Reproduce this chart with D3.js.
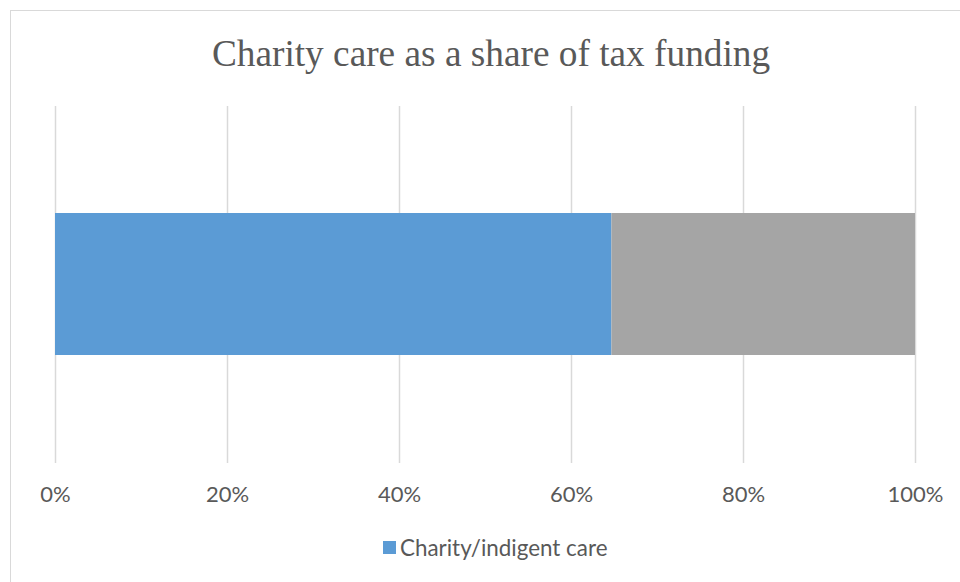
<!DOCTYPE html>
<html><head><meta charset="utf-8">
<script src="https://cdn.jsdelivr.net/npm/d3@7"></script>
<style>body{margin:0;background:#fff}svg{display:block}</style>
</head><body>
<script>
const title = "Charity care as a share of tax funding";
const categories = ["Tax funding"];
const seriesNames = ["Charity/indigent care", "Other"];
const charityShare = [0.647];
const otherShare = [0.353];
const tickValues = [0, 0.2, 0.4, 0.6, 0.8, 1.0];
const colors = ["#5b9bd5", "#a5a5a5"];
const legendSeries = ["Charity/indigent care"];

const W = 960, H = 582;
const svg = d3.select("body").append("svg").attr("width", W).attr("height", H);

svg.append("rect").attr("x", 10.5).attr("y", 10.5).attr("width", 960).attr("height", 600)
  .attr("fill", "#fff").attr("stroke", "#d9d9d9").attr("stroke-width", 1);

const x = d3.scaleLinear().domain([0, 1]).range([55, 915]);
const y = d3.scaleBand().domain(categories).range([106, 463]).paddingInner(0.6).paddingOuter(0.3);

// gridlines
svg.append("g").selectAll("line").data(tickValues).join("line")
  .attr("x1", d => Math.round(x(d)) + 0.5).attr("x2", d => Math.round(x(d)) + 0.5)
  .attr("y1", 106).attr("y2", 463)
  .attr("stroke", "#d9d9d9").attr("stroke-width", 1.5);

// stacked data
const rows = categories.map((c, i) => ({cat: c, "Charity/indigent care": charityShare[i], "Other": otherShare[i]}));
const stack = d3.stack().keys(seriesNames)(rows);
svg.append("g").selectAll("g").data(stack).join("g")
  .attr("fill", (d, i) => colors[i])
  .selectAll("rect").data(d => d).join("rect")
  .attr("x", d => x(d[0])).attr("width", d => x(d[1]) - x(d[0]))
  .attr("y", 213).attr("height", 142);

// axis labels
const axis = d3.axisBottom(x).tickValues(tickValues).tickFormat(d3.format(".0%")).tickSize(0).tickPadding(0);
const ag = svg.append("g").attr("transform", "translate(0,494)").call(axis);
ag.select(".domain").remove();
ag.selectAll("text").attr("fill", "#595959").attr("font-family", "Lato, 'Open Sans', sans-serif")
  .attr("font-size", 22).attr("dy", "0.35em");

// title
svg.append("text").attr("x", 491).attr("y", 66).attr("text-anchor", "middle")
  .attr("font-family", "'Liberation Serif', 'Times New Roman', serif").attr("font-size", 37.3)
  .attr("fill", "#595959").text(title);

// legend
const lg = svg.append("g");
lg.selectAll("rect").data(legendSeries).join("rect")
  .attr("x", 383).attr("y", 541).attr("width", 13).attr("height", 13).attr("fill", colors[0]);
lg.selectAll("text").data(legendSeries).join("text")
  .attr("x", 400).attr("y", 548).attr("dy", "0.35em")
  .attr("font-family", "Lato, 'Open Sans', sans-serif").attr("font-size", 22.4)
  .attr("fill", "#595959").text(d => d);
</script>
</body></html>
